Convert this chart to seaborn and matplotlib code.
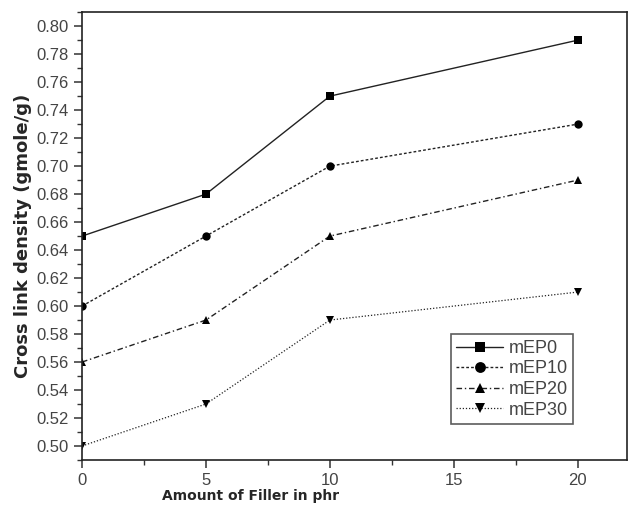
import seaborn as sns
import matplotlib.pyplot as plt
from matplotlib.ticker import MultipleLocator
import pandas as pd

filler = [0, 5, 10, 20]
mep0 = [0.65, 0.68, 0.75, 0.79]
mep10 = [0.60, 0.65, 0.70, 0.73]
mep20 = [0.56, 0.59, 0.65, 0.69]
mep30 = [0.50, 0.53, 0.59, 0.61]
series_names = ['mEP0', 'mEP10', 'mEP20', 'mEP30']

sns.set_style('ticks')
plt.rcParams['font.family'] = ['Liberation Sans', 'DejaVu Sans']

fig = plt.figure(figsize=(6.31, 5.08), dpi=100)
ax = fig.add_axes([0.130, 0.0945, 0.864, 0.8815])

styles = {
    'mEP0': ('-', 's', 1.0),
    'mEP10': ((0, (2, 1.5)), 'o', 1.0),
    'mEP20': ((0, (4, 2, 1, 2)), '^', 1.0),
    'mEP30': ((0, (1, 1.5)), 'v', 0.9),
}

for name, vals in zip(series_names, [mep0, mep10, mep20, mep30]):
    df = pd.DataFrame({'x': filler, 'y': vals})
    ls, mk, lw = styles[name]
    sns.lineplot(data=df, x='x', y='y', ax=ax, color='#222222', linestyle=ls,
                 linewidth=lw, marker=mk, markersize=6, markeredgewidth=0,
                 markerfacecolor='black', label=name)

ax.set_xlim(0, 22)
ax.set_ylim(0.49, 0.81)
ax.xaxis.set_major_locator(MultipleLocator(5))
ax.xaxis.set_minor_locator(MultipleLocator(2.5))
ax.yaxis.set_major_locator(MultipleLocator(0.02))
ax.yaxis.set_minor_locator(MultipleLocator(0.01))
ax.yaxis.set_major_formatter(plt.FuncFormatter(lambda v, p: f'{v:.2f}'))
ax.tick_params(which='major', direction='out', length=6, width=1.1, colors='#333333',
               labelsize=12, labelcolor='#444444')
ax.tick_params(which='minor', direction='out', length=3.5, width=1.0, colors='#333333')
for sp in ax.spines.values():
    sp.set_linewidth(1.2)
    sp.set_color('#222222')

ax.set_xlabel('Amount of Filler in phr', fontsize=10, fontweight='bold',
              family=['DejaVu Sans'])
ax.set_ylabel('Cross link density (gmole/g)', fontsize=13, fontweight='bold',
              family=['DejaVu Sans'])
ax.xaxis.set_label_coords(0.31, -0.064)
ax.yaxis.set_label_coords(-0.092, 0.5)

leg = ax.legend(loc='lower right', bbox_to_anchor=(0.917, 0.06), frameon=True,
                fancybox=False, edgecolor='#333333', fontsize=13, handlelength=2.6,
                handletextpad=0.3, borderpad=0.3, labelspacing=0.2, labelcolor='#444444',
                markerscale=1.3)
leg.get_frame().set_linewidth(1.2)

fig.savefig('out.png', dpi=100)
